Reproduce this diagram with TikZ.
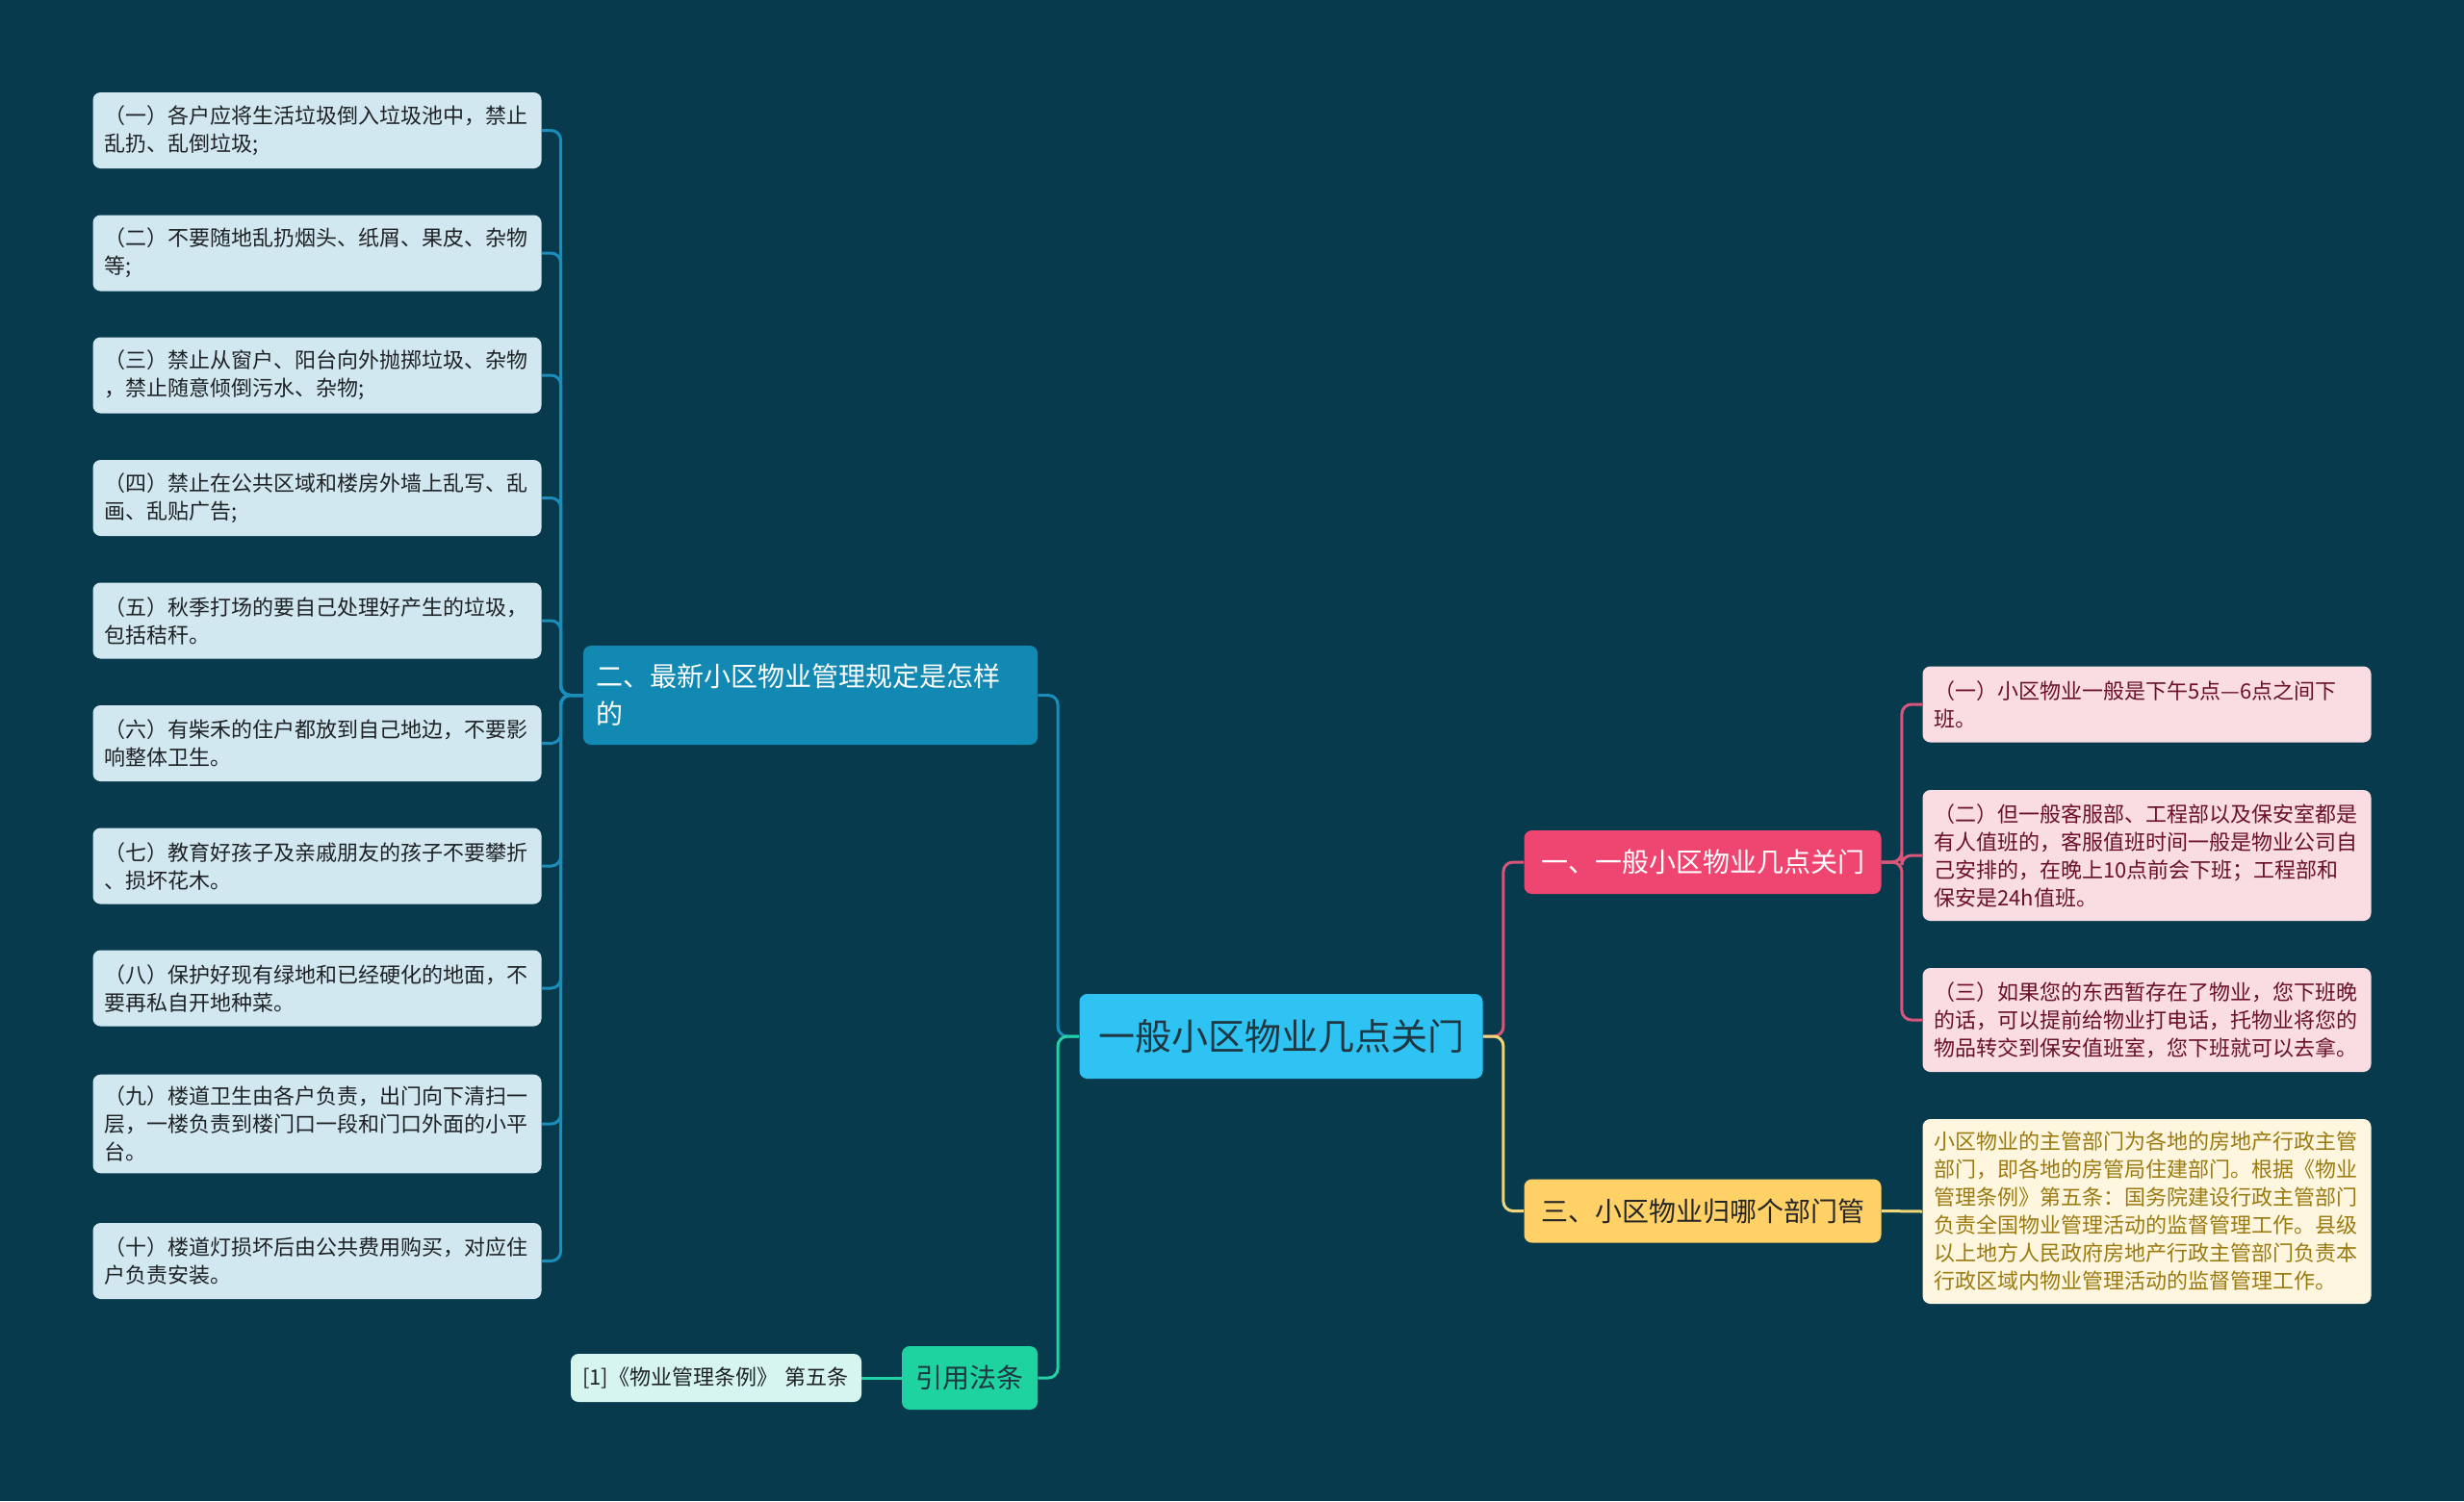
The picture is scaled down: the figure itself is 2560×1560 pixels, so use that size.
\documentclass[tikz,border=0pt]{standalone}
\usepackage{fontspec}
\setmainfont{Noto Sans CJK SC}
\definecolor{bgteal}{HTML}{073A4D}
\definecolor{leafblue}{HTML}{D2E8F0}
\definecolor{leafink}{HTML}{1E2226}
\definecolor{secblue}{HTML}{1289B3}
\definecolor{bluelink}{HTML}{1A8DBA}
\definecolor{rootblue}{HTML}{2EC3F2}
\definecolor{rootink}{HTML}{1F3742}
\definecolor{secgreen}{HTML}{1ED3A0}
\definecolor{greenlink}{HTML}{22D1A3}
\definecolor{leafmint}{HTML}{D5F5EE}
\definecolor{secpink}{HTML}{EE4671}
\definecolor{pinklink}{HTML}{D9557A}
\definecolor{leafpink}{HTML}{FADCE3}
\definecolor{pinkink}{HTML}{6A1028}
\definecolor{secyellow}{HTML}{FFD166}
\definecolor{yellowlink}{HTML}{F1D67A}
\definecolor{leafcream}{HTML}{FFF6DF}
\definecolor{creamink}{HTML}{9B7A10}

\begin{document}
\begin{tikzpicture}[x=0.5pt,y=-0.5pt,leaf/.style={fill=leafblue,rounded corners=4pt,text=leafink,align=left,text width=221pt,inner xsep=6pt,inner ysep=6pt,minimum height=39.5pt,font=\fontsize{11pt}{14.5pt}\selectfont},rleaf/.style={leaf,fill=leafpink,text=pinkink},yleaf/.style={leaf,fill=leafcream,text=creamink},sec/.style={rounded corners=4pt,align=center,minimum width=185.5pt,minimum height=33pt,inner xsep=7pt,font=\fontsize{14pt}{19.5pt}\selectfont},link/.style={line width=1.5pt,rounded corners=5pt}]
\useasboundingbox (0,0) rectangle (2560,1560); \fill[bgteal] (0,0) rectangle (2560,1560);
% root and main branches
\node[sec,fill=rootblue,text=rootink,minimum width=209.5pt,minimum height=44pt,font=\fontsize{19pt}{24pt}\selectfont] (root) at (1331,1077) {一般小区物业几点关门};
\node[sec,fill=secblue,text=white,align=left,text width=223pt,inner xsep=6.5pt,minimum height=51.5pt] (sec2) at (842,722.5) {二、最新小区物业管理规定是怎样\\的};
\node[sec,fill=secgreen,text=rootink,minimum width=70.5pt] (cite) at (1007.5,1432) {引用法条};
\node[sec,fill=secpink,text=white] (sec1) at (1769,896) {一、一般小区物业几点关门};
\node[sec,fill=secyellow,text=black!85] (sec3) at (1769,1258.5) {三、小区物业归哪个部门管};
% left leaves
\node[leaf] (l1) at (329.5,135.5) {（一）各户应将生活垃圾倒入垃圾池中，禁止\\乱扔、乱倒垃圾;};
\node[leaf] (l2) at (329.5,263) {（二）不要随地乱扔烟头、纸屑、果皮、杂物\\等;};
\node[leaf] (l3) at (329.5,390) {（三）禁止从窗户、阳台向外抛掷垃圾、杂物\\，禁止随意倾倒污水、杂物;};
\node[leaf] (l4) at (329.5,517.5) {（四）禁止在公共区域和楼房外墙上乱写、乱\\画、乱贴广告;};
\node[leaf] (l5) at (329.5,645) {（五）秋季打场的要自己处理好产生的垃圾，\\包括秸秆。};
\node[leaf] (l6) at (329.5,772.5) {（六）有柴禾的住户都放到自己地边，不要影\\响整体卫生。};
\node[leaf] (l7) at (329.5,900) {（七）教育好孩子及亲戚朋友的孩子不要攀折\\、损坏花木。};
\node[leaf] (l8) at (329.5,1027) {（八）保护好现有绿地和已经硬化的地面，不\\要再私自开地种菜。};
\node[leaf] (l9) at (329.5,1168) {（九）楼道卫生由各户负责，出门向下清扫一\\层，一楼负责到楼门口一段和门口外面的小平\\台。};
\node[leaf] (l10) at (329.5,1310.5) {（十）楼道灯损坏后由公共费用购买，对应住\\户负责安装。};
\node[leaf,fill=leafmint,text width=139pt,minimum height=25pt,inner ysep=4pt] (ref1) at (744,1432) {[1]《物业管理条例》 第五条};
% right leaves
\node[rleaf] (r1) at (2230.5,732) {（一）小区物业一般是下午5点—6点之间下\\班。};
\node[rleaf,minimum height=68pt] (r2) at (2230.5,889) {（二）但一般客服部、工程部以及保安室都是\\有人值班的，客服值班时间一般是物业公司自\\己安排的，在晚上10点前会下班；工程部和\\保安是24h值班。};
\node[rleaf,minimum height=54pt] (r3) at (2230.5,1060) {（三）如果您的东西暂存在了物业，您下班晚\\的话，可以提前给物业打电话，托物业将您的\\物品转交到保安值班室，您下班就可以去拿。};
\node[yleaf,minimum height=96pt] (y1) at (2230.5,1259) {小区物业的主管部门为各地的房地产行政主管\\部门，即各地的房管局住建部门。根据《物业\\管理条例》第五条：国务院建设行政主管部门\\负责全国物业管理活动的监督管理工作。县级\\以上地方人民政府房地产行政主管部门负责本\\行政区域内物业管理活动的监督管理工作。};
% connectors
\draw[link,bluelink] (root.west) -- ++(-22,0) |- (sec2.east); \draw[link,greenlink] (root.west) -- ++(-22,0) |- (cite.east);
\draw[link,pinklink] (root.east) -- ++(21,0) |- (sec1.west); \draw[link,yellowlink] (root.east) -- ++(21,0) |- (sec3.west);
\draw[link,bluelink] (sec2.west) -- ++(-23,0) |- (l1.east); \draw[link,bluelink] (sec2.west) -- ++(-23,0) |- (l2.east);
\draw[link,bluelink] (sec2.west) -- ++(-23,0) |- (l3.east); \draw[link,bluelink] (sec2.west) -- ++(-23,0) |- (l4.east);
\draw[link,bluelink] (sec2.west) -- ++(-23,0) |- (l5.east); \draw[link,bluelink] (sec2.west) -- ++(-23,0) |- (l6.east);
\draw[link,bluelink] (sec2.west) -- ++(-23,0) |- (l7.east); \draw[link,bluelink] (sec2.west) -- ++(-23,0) |- (l8.east);
\draw[link,bluelink] (sec2.west) -- ++(-23,0) |- (l9.east); \draw[link,bluelink] (sec2.west) -- ++(-23,0) |- (l10.east);
\draw[link,greenlink] (cite.west) -- (ref1.east);
\draw[link,pinklink] (sec1.east) -- ++(21,0) |- (r1.west); \draw[link,pinklink] (sec1.east) -- ++(21,0) |- (r2.west);
\draw[link,pinklink] (sec1.east) -- ++(21,0) |- (r3.west);
\draw[link,yellowlink] (sec3.east) -- (y1.west);
\end{tikzpicture}
\end{document}
